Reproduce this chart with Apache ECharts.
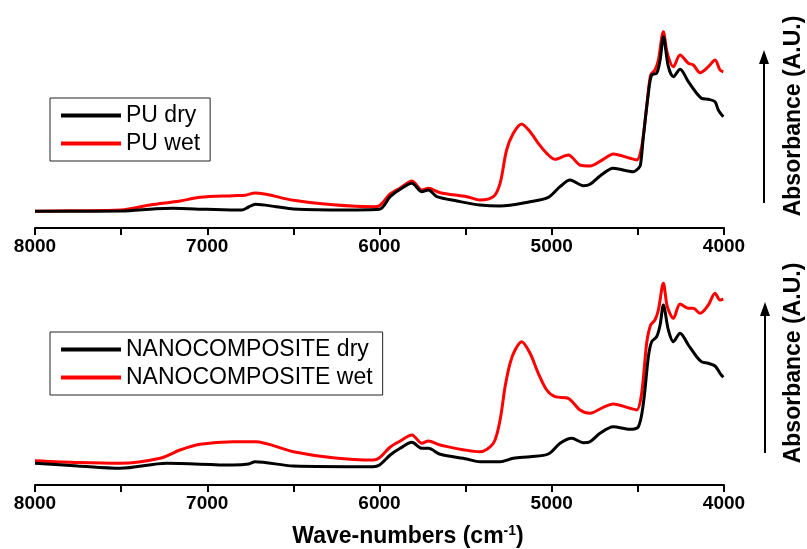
<!DOCTYPE html>
<html>
<head>
<meta charset="utf-8">
<script src="https://cdn.jsdelivr.net/npm/echarts@6/dist/echarts.min.js"></script>
<style>
  html, body { margin: 0; padding: 0; background: #fff; }
  #chart { width: 807px; height: 549px; }
</style>
</head>
<body>
<div id="chart"></div>
<script>
    // spectra: [wave-number, absorbance (arbitrary units)]
    var puDry = [
        [8000, 16.7], [7800, 16.8], [7500, 17], [7300, 19.3], [7200, 19.7], [7000, 18.7],
        [6800, 18], [6760, 21], [6720, 23.7], [6600, 21.3], [6500, 19], [6200, 18],
        [6000, 18.7], [5938, 31.3], [5880, 38.7], [5812, 44.7], [5754, 36.3], [5716, 38],
        [5667, 31.3], [5550, 27], [5417, 23], [5300, 22], [5126, 26.3], [5020, 30.7],
        [4952, 41.3], [4894, 48], [4817, 42.3], [4778, 43.7], [4720, 52], [4643, 59.7],
        [4527, 56.3], [4497, 59.7], [4485, 63], [4468, 91.3], [4439, 134.7], [4420, 153],
        [4391, 154.7], [4371, 168], [4352, 191.3], [4323, 161.3], [4294, 151.3], [4255, 158.7],
        [4207, 146.3], [4159, 134.7], [4130, 129.7], [4091, 128.7], [4052, 126.3],
        [4033, 118], [4004, 111.3]
    ];
    var puWet = [
        [8000, 16.7], [7800, 17.2], [7500, 18], [7332, 23], [7158, 27], [7042, 30.7],
        [6850, 32.3], [6780, 32.8], [6722, 35], [6500, 27.7], [6270, 23.3], [6037, 21.3],
        [6000, 22.3], [5938, 34], [5880, 40], [5812, 47], [5754, 38], [5716, 39.7],
        [5648, 35.3], [5493, 31.3], [5417, 28], [5339, 31.3], [5300, 44.7], [5262, 78],
        [5223, 94.7], [5175, 104], [5126, 96.3], [5078, 84.7], [5029, 74.7], [4981, 68.7],
        [4904, 73], [4836, 63], [4778, 62], [4701, 68.7], [4643, 74], [4546, 69.7],
        [4507, 68], [4478, 81.3], [4449, 121.3], [4426, 153], [4401, 158], [4381, 168],
        [4352, 196.3], [4329, 174.7], [4294, 161.3], [4255, 173], [4207, 164.7], [4178, 163],
        [4139, 155.3], [4091, 161.3], [4052, 168], [4023, 158], [4004, 156.3]
    ];
    var ncDry = [
        [8000, 21.7], [7750, 19], [7506, 16.7], [7235, 21.7], [6850, 20], [6760, 21],
        [6722, 23.3], [6500, 19], [6037, 18.3], [6000, 20], [5938, 30], [5880, 36.7],
        [5812, 42.7], [5754, 36.7], [5716, 36.7], [5648, 30.7], [5493, 26], [5417, 23.3],
        [5300, 23.3], [5223, 26.7], [5126, 28.3], [5020, 31], [4952, 41.7], [4884, 46.7],
        [4817, 42.3], [4778, 43.3], [4720, 51.7], [4643, 58.3], [4546, 55.7], [4497, 58.3],
        [4468, 81.7], [4439, 128.3], [4420, 143.3], [4391, 148.3], [4371, 160], [4352, 180],
        [4323, 155], [4294, 143.3], [4255, 151.7], [4207, 140], [4159, 128.3], [4130, 123.3],
        [4091, 121.7], [4052, 119], [4023, 111.7], [4004, 107.7]
    ];
    var ncWet = [
        [8000, 24.3], [7750, 22.5], [7506, 21.7], [7274, 26.7], [7158, 35], [7042, 40.7],
        [6850, 43.3], [6722, 43.3], [6500, 33.3], [6270, 27.3], [6037, 25], [6000, 27.3],
        [5938, 38], [5880, 44], [5812, 50], [5754, 41.7], [5716, 44], [5648, 40],
        [5417, 33.3], [5339, 41.7], [5300, 65], [5271, 98.3], [5242, 121.7], [5213, 135],
        [5175, 143.3], [5126, 131.7], [5078, 111.7], [5029, 95], [4981, 88.3], [4904, 86.7],
        [4836, 75], [4778, 71.7], [4701, 77.7], [4643, 81], [4546, 76.7], [4507, 75],
        [4478, 91.7], [4449, 141.7], [4426, 160], [4401, 165], [4381, 175], [4352, 201.7],
        [4329, 178.3], [4294, 166.7], [4255, 181], [4207, 176.7], [4178, 176.7], [4139, 171.7],
        [4091, 180], [4052, 191.7], [4023, 185], [4004, 185.7]
    ];
    var seriesNames = ['PU dry', 'PU wet', 'NANOCOMPOSITE dry', 'NANOCOMPOSITE wet'];

    var font = '"Liberation Sans", Arial, sans-serif';
    var myChart = echarts.init(document.getElementById('chart'));

    function xAxisOf(gridIndex, margin) {
        return {
            gridIndex: gridIndex,
            type: 'value',
            min: 4000,
            max: 8000,
            interval: 500,
            inverse: true,
            axisLine: { lineStyle: { color: '#000', width: 2 } },
            axisTick: { length: 7, lineStyle: { color: '#000', width: 2 } },
            splitLine: { show: false },
            axisLabel: {
                margin: margin,
                fontFamily: font,
                fontWeight: 'bold',
                fontSize: 19,
                color: '#000',
                formatter: function (v) { return v % 1000 === 0 ? String(v) : ''; }
            }
        };
    }

    function legendOf(top, names) {
        return {
            orient: 'vertical',
            left: 50,
            top: top,
            data: names,
            icon: 'rect',
            itemWidth: 60,
            itemHeight: 4,
            itemGap: 5,
            padding: [6, 10, 6, 11],
            borderColor: '#222',
            borderWidth: 1,
            borderRadius: 0,
            textStyle: { fontFamily: font, fontSize: 23, color: '#000' }
        };
    }

    function lineOf(name, data, color, idx) {
        return {
            name: name,
            type: 'line',
            data: data,
            xAxisIndex: idx,
            yAxisIndex: idx,
            showSymbol: false,
            symbol: 'none',
            smooth: 0.3,
            lineStyle: { color: color, width: 3 },
            itemStyle: { color: color },
            z: color === '#ff0000' ? 2 : 3
        };
    }

    function arrow(x, y1, y2) {
        return {
            type: 'group',
            children: [
                { type: 'line', shape: { x1: x, y1: y2, x2: x, y2: y1 + 10 }, style: { stroke: '#000', lineWidth: 2 } },
                { type: 'polygon', shape: { points: [[x, y1], [x - 5, y1 + 14], [x + 5, y1 + 14]] }, style: { fill: '#000' } }
            ]
        };
    }

    function sideTitle(y) {
        return {
            type: 'text',
            x: 794,
            y: y,
            rotation: Math.PI / 2,
            style: {
                text: 'Absorbance (A.U.)',
                font: 'bold 23px ' + font,
                fill: '#000',
                textAlign: 'center',
                textVerticalAlign: 'middle'
            }
        };
    }

    var option = {
        animation: false,
        backgroundColor: '#fff',
        grid: [
            { left: 35, right: 83, top: 10, height: 218 },
            { left: 35, right: 83, top: 270, height: 215 }
        ],
        xAxis: [xAxisOf(0, 9), xAxisOf(1, 9)],
        yAxis: [
            { gridIndex: 0, type: 'value', min: 0, max: 218, show: false },
            { gridIndex: 1, type: 'value', min: 0, max: 215, show: false }
        ],
        legend: [
            legendOf(98, [seriesNames[0], seriesNames[1]]),
            legendOf(332, [seriesNames[2], seriesNames[3]])
        ],
        series: [
            lineOf(seriesNames[0], puDry, '#000', 0),
            lineOf(seriesNames[1], puWet, '#ff0000', 0),
            lineOf(seriesNames[2], ncDry, '#000', 1),
            lineOf(seriesNames[3], ncWet, '#ff0000', 1)
        ],
        graphic: [
            arrow(764, 50, 203),
            arrow(765, 302, 453),
            sideTitle(116),
            sideTitle(363),
            {
                type: 'text',
                x: 408,
                y: 537,
                style: {
                    text: '{t|Wave-numbers (cm}{s|-1}{t|)}',
                    textAlign: 'center',
                    textVerticalAlign: 'middle',
                    rich: {
                        t: { font: 'bold 23px ' + font, fill: '#000' },
                        s: { font: 'bold 14px ' + font, fill: '#000', padding: [0, 0, 12, 0] }
                    }
                }
            }
        ]
    };
    myChart.setOption(option);
</script>
</body>
</html>
